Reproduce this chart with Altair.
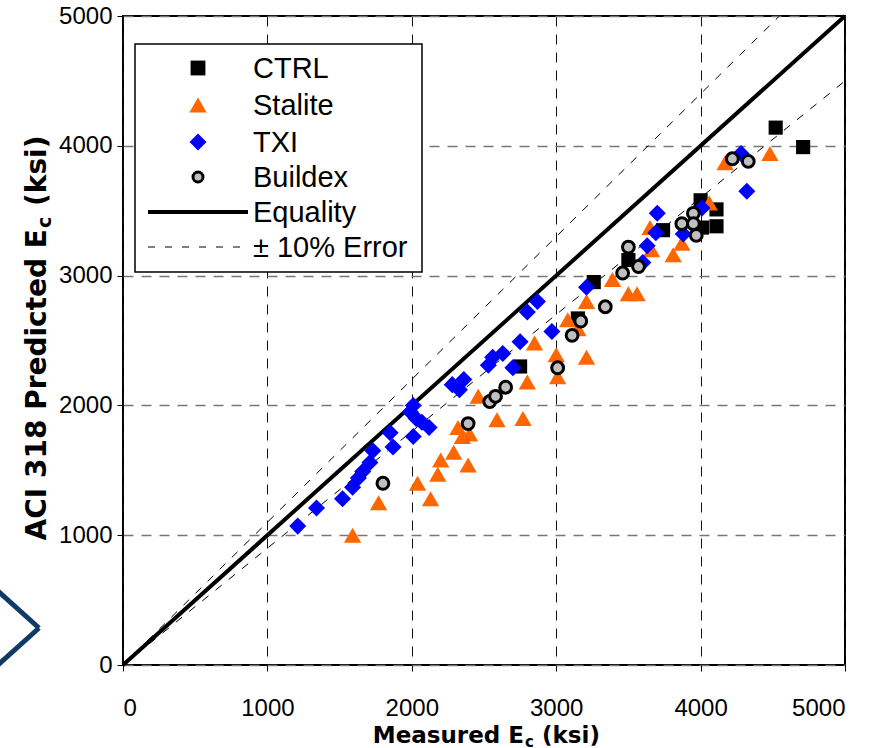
import altair as alt
import pandas as pd

# ---------------- data ----------------
ctrl_x = [2750, 3150, 3260, 3500, 3740, 4000, 4010, 4110, 4110, 4520, 4710]
ctrl_y = [2300, 2670, 2950, 3120, 3350, 3580, 3370, 3510, 3380, 4140, 3990]

stalite_x = [1590, 1770, 2040, 2130, 2180, 2200, 2290, 2320, 2350, 2390, 2400,
             2460, 2590, 2770, 2800, 2850, 3000, 3010, 3080, 3150, 3210, 3210,
             3390, 3500, 3560, 3650, 3660, 3810, 3870, 4060, 4170, 4480]
stalite_y = [1000, 1250, 1400, 1280, 1470, 1580, 1640, 1830, 1760, 1540, 1780,
             2070, 1890, 1900, 2180, 2480, 2390, 2220, 2660, 2590, 2800, 2370,
             2970, 2860, 2860, 3370, 3200, 3160, 3250, 3560, 3870, 3940]

txi_x = [1210, 1340, 1520, 1590, 1630, 1660, 1710, 1730, 1850, 1870, 1990, 2010,
         2030, 2070, 2120, 2010, 2280, 2330, 2360, 2530, 2560, 2630, 2700, 2750,
         2800, 2870, 2970, 3210, 3600, 3630, 3690, 3700, 3880, 4010, 4280, 4320]
txi_y = [1070, 1210, 1280, 1370, 1440, 1490, 1560, 1650, 1790, 1680, 1950, 2000,
         1900, 1870, 1830, 1760, 2160, 2120, 2200, 2310, 2370, 2400, 2290, 2490,
         2720, 2800, 2570, 2910, 3100, 3230, 3330, 3480, 3320, 3520, 3940, 3650]

buildex_x = [1800, 2390, 2540, 2580, 2650, 3010, 3110, 3170, 3340, 3460, 3500,
             3570, 3870, 3950, 3950, 3970, 4220, 4330]
buildex_y = [1400, 1860, 2030, 2070, 2140, 2290, 2540, 2650, 2760, 3020, 3220,
             3070, 3400, 3480, 3400, 3310, 3900, 3880]

axis_ticks = [0, 1000, 2000, 3000, 4000, 5000]
line_x = [0, 5000]
err = 0.10

series_labels = ["CTRL", "Stalite", "TXI", "Buildex", "Equality", "\u00b1 10% Error"]

FONT = "Liberation Sans"
TFONT = "DejaVu Sans"
W, H = 722, 649

sc = alt.Scale(domain=[0, 5000], nice=False, zero=False)
X = alt.X("x:Q", scale=sc, axis=alt.Axis(values=axis_ticks, title=None, grid=True,
                                         gridDash=[10, 8], gridColor="#111", gridWidth=1,
                                         labelPadding=25, format="d"))
Y = alt.Y("y:Q", scale=sc, axis=alt.Axis(values=axis_ticks, title=None, grid=True,
                                         gridDash=[10, 8], gridColor="#777", gridWidth=1.3,
                                         labelPadding=5, format="d"))


def df(xs, ys):
    return pd.DataFrame({"x": xs, "y": ys})


eq = alt.Chart(df(line_x, line_x)).mark_line(color="black", strokeWidth=4).encode(x=X, y=Y)
upper = alt.Chart(df([v / (1 + err) for v in line_x], line_x)).mark_line(
    color="black", strokeWidth=1, strokeDash=[8, 9]).encode(x=X, y=Y)
lower = alt.Chart(df(line_x, [v * (1 - err) for v in line_x])).mark_line(
    color="black", strokeWidth=1, strokeDash=[8, 9]).encode(x=X, y=Y)

ctrl = alt.Chart(df(ctrl_x, ctrl_y)).mark_point(
    shape="square", filled=True, color="black", size=200, opacity=1).encode(x=X, y=Y)
stal = alt.Chart(df(stalite_x, stalite_y)).mark_point(
    shape="triangle-up", filled=True, color="#FF6600", size=300, opacity=1).encode(x=X, y=Y)
txi = alt.Chart(df(txi_x, txi_y)).mark_point(
    shape="diamond", filled=True, color="#0000FF", size=290, opacity=1).encode(x=X, y=Y)
bld = alt.Chart(df(buildex_x, buildex_y)).mark_point(
    shape="circle", filled=True, fill="#C0C0C0", stroke="black", strokeWidth=3,
    size=140, opacity=1).encode(x=X, y=Y)

one = alt.Data(values=[{"a": 1}])

# ---------------- legend (drawn by hand, pixel positions) ----------------
leg = [alt.Chart(one).mark_rect(fill="white", stroke="black", strokeWidth=1.5).encode(
    x=alt.value(12), x2=alt.value(299), y=alt.value(28), y2=alt.value(256))]
rows = [52, 89, 126, 161, 196, 231]
sym_x = 75
syms = [
    dict(shape="square", filled=True, color="black", size=220),
    dict(shape="triangle-up", filled=True, color="#FF6600", size=300),
    dict(shape="diamond", filled=True, color="#0000FF", size=290),
    dict(shape="circle", filled=True, fill="#C0C0C0", stroke="black", strokeWidth=3, size=100),
]
for r, s in zip(rows[:4], syms):
    leg.append(alt.Chart(one).mark_point(opacity=1, **s).encode(
        x=alt.value(sym_x), y=alt.value(r)))
leg.append(alt.Chart(one).mark_rule(color="black", strokeWidth=4).encode(
    x=alt.value(25), x2=alt.value(125), y=alt.value(rows[4]), y2=alt.value(rows[4])))
leg.append(alt.Chart(one).mark_rule(color="black", strokeWidth=1, strokeDash=[7, 10]).encode(
    x=alt.value(25), x2=alt.value(118), y=alt.value(rows[5]), y2=alt.value(rows[5])))
for r, lab in zip(rows, series_labels):
    leg.append(alt.Chart(one).mark_text(
        text=lab, font=FONT, fontSize=29, align="left", baseline="middle", color="black").encode(
        x=alt.value(130), y=alt.value(r + 1)))

# ---------------- axis titles with subscript ----------------
tfont = dict(font=TFONT, fontWeight="bold", color="black")
titles = [
    alt.Chart(one).mark_text(text="Measured E", fontSize=23, align="right",
                             baseline="alphabetic", **tfont).encode(
        x=alt.value(401), y=alt.value(727)),
    alt.Chart(one).mark_text(text="c", fontSize=15, align="left",
                             baseline="alphabetic", **tfont).encode(
        x=alt.value(402), y=alt.value(731)),
    alt.Chart(one).mark_text(text="(ksi)", fontSize=23, align="left",
                             baseline="alphabetic", **tfont).encode(
        x=alt.value(419), y=alt.value(727)),
    alt.Chart(one).mark_text(text="ACI 318 Predicted E", fontSize=28, angle=270, align="right",
                             baseline="alphabetic", **tfont).encode(
        x=alt.value(-77), y=alt.value(213)),
    alt.Chart(one).mark_text(text="c", fontSize=19, angle=270, align="left",
                             baseline="alphabetic", **tfont).encode(
        x=alt.value(-72), y=alt.value(212)),
    alt.Chart(one).mark_text(text="(ksi)", fontSize=28, angle=270, align="left",
                             baseline="alphabetic", **tfont).encode(
        x=alt.value(-77), y=alt.value(190)),
]

# ---------------- slide decoration (chevron at left) ----------------
chev = [
    alt.Chart(one).mark_rule(color="#0F3A68", strokeWidth=5).encode(
        x=alt.value(-125), x2=alt.value(-84), y=alt.value(575), y2=alt.value(612)),
    alt.Chart(one).mark_rule(color="#0F3A68", strokeWidth=5).encode(
        x=alt.value(-84), x2=alt.value(-125), y=alt.value(612), y2=alt.value(649)),
]

chart = alt.layer(
    upper, lower, eq, ctrl, stal, txi, bld, *leg, *titles, *chev
).properties(
    width=W, height=H,
    autosize=alt.AutoSizeParams(type="none"),
    padding={"left": 123, "top": 16, "right": 35, "bottom": 83},
    background="white",
).configure_view(
    stroke="black", strokeWidth=2
).configure_axis(
    labelFont=FONT, labelFontSize=24, labelColor="black",
    tickColor="black", tickSize=6, tickWidth=1, domain=False,
)

chart.save("out.html", embed_options={"renderer": "svg", "actions": False})
